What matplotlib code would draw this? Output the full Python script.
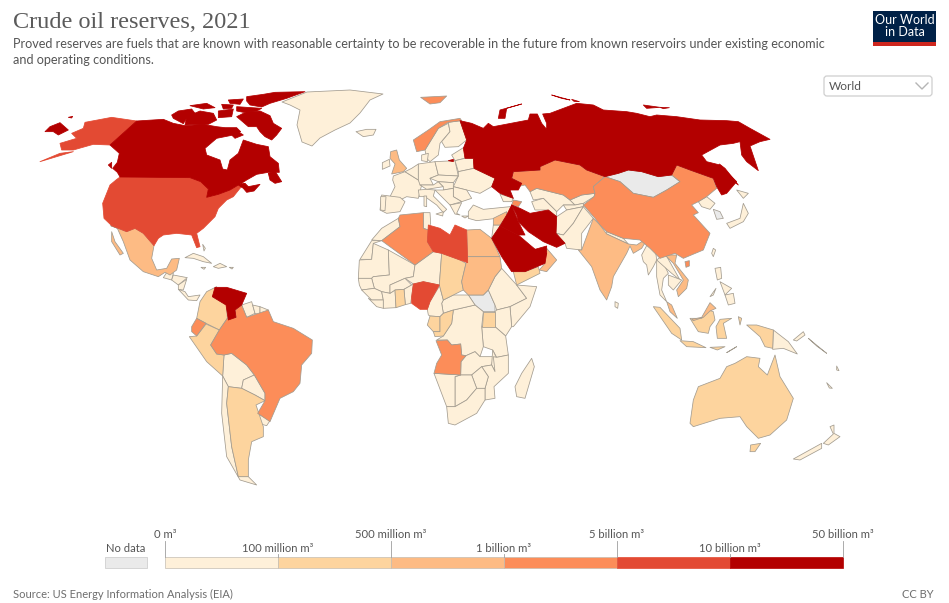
import matplotlib
matplotlib.use("Agg")
import matplotlib.pyplot as plt
from matplotlib.patches import Polygon, Rectangle, FancyBboxPatch

# ---- legend data ----
BIN_COLORS = ["#fef0d9", "#fdd49e", "#fdbb84", "#fc8d59", "#e34a33", "#b30000"]
NO_DATA_COLOR = "#eaeaea"
BIN_LABELS = ["0 m³", "100 million m³", "500 million m³", "1 billion m³",
              "5 billion m³", "10 billion m³", "50 billion m³"]

# ---- reserve bin per country (-1 = no data) ----
BIN_5 = ["Canada", "Russia", "Venezuela", "Iran", "Iraq", "Saudi Arabia", "UAE", "Kuwait"]
BIN_4 = ["United States", "Libya", "Nigeria"]
BIN_3 = ["Algeria", "Angola", "Kazakhstan", "China", "Norway", "Brazil", "Ecuador", "Azerbaijan"]
BIN_2 = ["Mexico", "United Kingdom", "Egypt", "Sudan", "Oman", "India", "Malaysia", "Vietnam", "Syria"]
BIN_1 = ["Colombia", "Peru", "Argentina", "Chad", "Yemen", "Indonesia", "Australia", "Ghana",
         "Uganda", "Gabon", "Congo"]
NO_DATA = ["Mongolia", "South Sudan", "South Korea"]

# ---- map outlines (traced on crops of the map, each crop has its own origin) ----
PAGE, NA, SA, EU, AF, AS, OC = (0, 0), (30, 85), (100, 230), (350, 90), (340, 210), (450, 90), (630, 230)

OUTLINES = {
 "Canada": [(NA, [(320,108),(400,103),(430,115),(465,122),(520,118),(560,125),(585,128),(620,128),(632,140),(615,148),(600,152),(560,160),(525,190),(530,210),(570,225),(578,252),(592,255),(600,225),(625,205),(640,165),(680,178),(715,185),(720,215),(745,235),(748,262),(715,262),(680,268),(650,285),(630,298),(645,295),(655,305),(690,298),(672,318),(650,322),(640,310),(625,300),(600,315),(565,328),(530,337),(535,312),(512,290),(480,278),(270,276),(262,262),(248,250),(262,232),(268,205),(240,180)]),
   (NA, [(620,95),(650,80),(690,78),(720,92),(730,115),(755,130),(740,150),(725,165),(705,155),(690,140),(680,125),(655,125),(640,112)]),
   (NA, [(470,95),(510,78),(550,85),(560,105),(535,118),(465,120)]),
   (NA, [(425,90),(445,78),(485,72),(495,85),(470,100),(460,116),(430,100)]),
   (NA, [(650,35),(700,28),(735,22),(825,20),(770,40),(720,55),(695,66),(660,60),(650,48)]),
   (NA, [(480,62),(530,55),(555,68),(520,72)]), (NA, [(595,45),(640,42),(630,58),(600,55)]),
   (NA, [(575,58),(610,60),(605,70),(580,72)]), (NA, [(565,78),(610,72),(605,95),(565,98)]),
   (NA, [(620,65),(695,70),(680,78),(640,82),(620,78)]), (NA, [(600,145),(625,140),(640,150),(615,160)]),
   (NA, [(715,265),(735,258),(755,290),(735,295),(720,285)]), (NA, [(235,240),(245,232),(245,250)])],
 "United States": [(NA, [(270,276),(480,278),(512,290),(535,312),(530,337),(565,328),(600,315),(625,300),(645,295),(630,310),(610,335),(590,345),(565,370),(555,395),(520,430),(500,445),(510,485),(500,488),(485,450),(440,445),(400,450),(385,460),(372,482),(340,445),(315,430),(290,440),(245,422),(222,400),(218,355),(240,300),(258,285)]),
   (NA, [(320,108),(245,97),(165,112),(160,130),(125,145),(140,160),(90,175),(95,195),(130,195),(190,178),(240,180)]),
   (NA, [(30,230),(90,212),(130,200),(90,205)])],
 "Mexico": [(NA, [(242,422),(290,440),(315,430),(340,445),(372,482),(365,520),(380,555),(410,550),(425,522),(448,520),(440,555),(420,570),(405,562),(385,575),(340,560),(300,525),(280,470),(262,430)]),
   (NA, [(245,440),(255,470),(280,505),(270,510),(245,470)])],
 "Greenland": [(PAGE, [(282,102),(307,92),(350,90),(383,94),(370,100),(360,113),(350,123),(335,130),(320,138),(312,146),(302,142),(297,125),(300,110),(290,105)])],
 "Cuba": [(NA, [(465,518),(490,505),(520,515),(545,535),(520,530),(490,520)])],
 "Hispaniola": [(NA, [(550,545),(570,535),(590,545),(565,550)])],
 "Jamaica": [(NA, [(513,547),(527,547),(522,553)])],
 "Puerto Rico": [(NA, [(598,547),(610,547),(606,552)])],
 "Bahamas": [(NA, [(518,478),(526,490),(522,498)])],
 "Guatemala": [(SA, [(190,143),(205,120),(220,130),(215,150)])],
 "Honduras": [(SA, [(220,135),(262,143),(235,165),(215,150)])],
 "Nicaragua": [(SA, [(235,165),(260,148),(250,180),(235,178)])],
 "Panama": [(SA, [(235,178),(255,185),(265,200),(300,195),(290,212),(265,210)])],
 "Colombia": [(SA, [(300,215),(320,185),(350,170),(337,200),(380,225),(382,265),(358,300),(318,280),(290,265)])],
 "Venezuela": [(SA, [(337,200),(345,172),(380,172),(440,190),(425,225),(405,240),(408,262),(385,270),(378,225)])],
 "Ecuador": [(SA, [(275,290),(290,265),(318,280),(290,318),(275,305)])],
 "Peru": [(SA, [(268,320),(290,318),(318,282),(358,300),(332,345),(350,372),(372,375),(368,438),(320,395)])],
 "Bolivia": [(SA, [(372,375),(395,370),(440,405),(463,435),(430,450),(425,475),(385,470),(368,438)])],
 "Chile": [(SA, [(368,438),(385,470),(380,520),(395,650),(415,740),(445,740),(470,765),(420,750),(380,680),(365,550)])],
 "Argentina": [(SA, [(385,470),(425,475),(465,495),(495,512),(468,525),(490,590),(490,620),(455,635),(445,690),(445,740),(415,740),(395,650),(380,520)])],
 "Paraguay": [(SA, [(430,450),(463,435),(495,490),(495,512),(465,495),(425,475)])],
 "Uruguay": [(SA, [(473,550),(510,572),(500,587),(475,580)])],
 "Brazil": [(SA, [(332,345),(358,300),(382,265),(408,262),(405,240),(425,225),(440,262),(505,240),(520,275),(580,295),(637,330),(635,370),(605,405),(600,460),(580,485),(540,505),(510,575),(473,550),(495,512),(495,490),(463,435),(440,405),(395,370),(372,375),(350,372)])],
 "Guyana": [(SA, [(425,225),(455,215),(465,250),(440,262)])],
 "Suriname": [(SA, [(458,225),(480,230),(480,255),(465,250)])],
 "French Guiana": [(SA, [(480,230),(505,240),(495,260),(480,255)])],
 "Iceland": [(EU, [(18,125),(50,118),(78,118),(70,135),(40,140)])],
 "Norway": [(EU, [(190,150),(235,120),(270,95),(330,85),(335,92),(295,97),(265,115),(225,180),(200,185)]),
   (EU, [(212,22),(290,18),(270,38),(240,42)])],
 "Sweden": [(EU, [(225,180),(265,115),(295,100),(300,125),(270,160),(265,195),(240,215),(230,205)])],
 "Finland": [(EU, [(295,97),(330,92),(350,150),(325,170),(285,172),(275,155),(300,125)])],
 "United Kingdom": [(EU, [(122,185),(140,180),(148,210),(170,235),(160,245),(125,252),(135,222),(120,205)])],
 "Ireland": [(EU, [(97,218),(118,208),(120,228),(97,238)])],
 "France": [(EU, [(130,258),(165,245),(205,270),(215,285),(205,325),(170,320),(150,330),(120,320),(135,290),(128,270)])],
 "Spain": [(EU, [(95,315),(150,322),(165,335),(150,365),(110,370),(90,360)])],
 "Portugal": [(EU, [(92,320),(108,320),(105,362),(92,360)])],
 "Denmark": [(EU, [(215,195),(235,190),(232,215),(215,212)])],
 "Benelux": [(EU, [(165,245),(185,235),(205,222),(205,270)])],
 "Germany": [(EU, [(205,222),(255,215),(265,255),(240,265),(250,285),(210,285),(205,270)])],
 "Poland": [(EU, [(255,215),(315,212),(325,258),(265,255)])],
 "Baltics": [(EU, [(305,195),(345,170),(345,205),(315,212)])],
 "Belarus": [(EU, [(315,212),(345,205),(370,205),(372,235),(325,245)])],
 "Ukraine": [(EU, [(325,245),(372,235),(435,265),(425,290),(390,310),(350,300),(310,290),(325,258)])],
 "Czechia": [(EU, [(240,265),(265,255),(325,258),(310,278),(265,275)])],
 "Austria": [(EU, [(210,285),(250,285),(265,275),(280,290),(230,298)])],
 "Hungary": [(EU, [(265,275),(310,278),(310,295),(280,300),(280,290)])],
 "Romania": [(EU, [(310,290),(350,300),(365,325),(335,335),(310,320)])],
 "Balkans": [(EU, [(255,300),(280,300),(310,295),(310,320),(335,335),(300,345),(280,325)])],
 "Greece": [(EU, [(300,345),(335,338),(320,370),(330,375),(315,372)])],
 "Italy": [(EU, [(205,300),(230,298),(255,300),(250,318),(290,358),(280,368),(260,345),(225,320),(208,320)]),
   (EU, [(258,372),(280,365),(278,378)]), (EU, [(222,318),(230,318),(230,350),(222,348)])],
 "Turkey": [(EU, [(355,365),(370,345),(400,358),(480,350),(495,375),(440,385),(380,392),(355,385)])],
 "Cyprus": [(EU, [(335,378),(355,378),(345,384)])],
 "Russia": [(AS, [(30,92),(65,100),(100,115),(115,100),(130,110),(235,90),(240,72),(262,72),(275,100),(290,118),(290,100),(278,72),(300,70),(380,40),(430,45),(460,60),(530,65),(560,70),(600,80),(620,75),(680,80),(750,90),(830,92),(865,95),(900,115),(960,148),(930,155),(900,168),(925,242),(890,215),(875,195),(870,155),(850,160),(810,165),(755,195),(770,215),(810,225),(860,275),(830,310),(815,315),(800,290),(790,265),(720,240),(680,225),(665,255),(625,260),(575,245),(535,240),(505,250),(465,260),(410,240),(390,225),(315,210),(270,230),(270,240),(190,245),(185,265),(215,280),(205,300),(180,300),(190,325),(150,310),(125,290),(135,265),(72,235),(70,205),(45,205),(40,175),(50,150)]),
   (AS, [(808,222),(825,235),(865,285),(845,270)]),
   (AS, [(145,85),(150,60),(215,42),(170,55),(165,85)]),
   (AS, [(305,15),(360,30),(335,25)]), (AS, [(365,28),(388,35),(372,34)]),
   (AS, [(580,45),(630,52),(590,55)]), (AS, [(630,52),(658,53),(640,56)]),
   (NA, [(45,140),(60,125),(90,113),(115,135),(85,150),(70,140)]),
   (NA, [(115,97),(128,94),(125,99)]), (EU, [(295,212),(310,208),(310,215)])],
 "Kazakhstan": [(AS, [(190,245),(270,240),(270,230),(315,210),(390,225),(410,240),(465,260),(430,290),(435,310),(395,315),(360,330),(340,315),(260,295),(240,305),(225,285),(200,290),(215,280),(185,265)])],
 "China": [(AS, [(465,260),(510,275),(550,310),(610,322),(650,300),(690,275),(665,255),(680,225),(720,240),(790,265),(800,295),(770,320),(745,335),(725,345),(745,368),(730,375),(780,430),(760,480),(700,505),(675,490),(630,505),(600,475),(570,450),(520,445),(470,425),(450,405),(435,385),(400,345),(432,320),(435,310),(430,290)]),
   (AS, [(705,515),(718,512),(718,528),(708,532)])],
 "Mongolia": [(AS, [(465,260),(505,250),(535,240),(575,245),(625,260),(665,255),(690,275),(650,300),(610,322),(550,310),(510,275)])],
 "Taiwan": [(AS, [(790,475),(797,480),(790,500),(785,490)])],
 "North Korea": [(AS, [(745,335),(770,320),(795,340),(780,358),(755,350)])],
 "South Korea": [(AS, [(790,358),(810,365),(820,385),(800,388)])],
 "Japan": [(AS, [(880,340),(895,370),(880,395),(840,415),(830,400),(870,385)]), (AS, [(860,300),(895,310),(880,325)])],
 "Uzbekistan": [(AS, [(240,305),(260,295),(340,315),(360,330),(375,345),(340,345),(320,365),(280,325),(250,330)])],
 "Turkmenistan": [(AS, [(245,335),(280,325),(320,365),(320,380),(295,360),(255,360)])],
 "Kyrgyzstan": [(AS, [(360,330),(395,315),(435,310),(432,320),(400,340),(375,345)])],
 "Tajikistan": [(AS, [(375,345),(400,340),(400,350),(350,360),(340,345)])],
 "Afghanistan": [(AS, [(320,380),(350,360),(400,350),(370,400),(340,435),(318,430)])],
 "Pakistan": [(AS, [(318,430),(340,435),(370,400),(400,350),(430,385),(395,430),(395,480),(350,475),(345,460)])],
 "Iran": [(AS, [(185,345),(210,355),(240,370),(295,360),(320,380),(318,430),(345,460),(320,472),(280,455),(235,425),(205,395),(200,375)])],
 "Iraq": [(AS, [(170,375),(185,345),(205,395),(225,435),(205,435),(150,408)])],
 "Saudi Arabia": [(AS, [(125,445),(150,408),(205,435),(240,465),(270,490),(290,490),(285,520),(225,545),(185,545),(155,500)])],
 "UAE": [(AS, [(255,478),(290,468),(290,492),(270,492)])],
 "Yemen": [(AS, [(190,545),(225,545),(265,530),(270,550),(200,585)])],
 "Oman": [(AS, [(290,475),(320,510),(290,545),(268,540),(285,520)])],
 "Syria": [(AS, [(130,385),(170,365),(170,378),(150,405),(130,405)])],
 "Jordan": [(AS, [(130,405),(150,405),(150,408),(125,445)])],
 "Georgia": [(AS, [(150,312),(190,325),(185,335),(160,335)])],
 "Azerbaijan": [(AS, [(190,330),(215,335),(205,350),(185,345)])],
 "India": [(AS, [(395,480),(430,385),(450,405),(470,432),(535,462),(560,465),(595,442),(575,475),(550,490),(540,468),(530,490),(490,560),(485,590),(470,630),(450,600),(425,530),(385,480)])],
 "Nepal": [(AS, [(470,425),(520,445),(535,462),(470,432)])],
 "Sri Lanka": [(AS, [(495,635),(505,640),(503,655),(495,650)])],
 "Myanmar": [(OC, [(35,75),(60,28),(75,50),(80,90),(70,110),(55,135),(50,105),(40,95)])],
 "Thailand": [(OC, [(80,90),(100,100),(115,130),(100,145),(95,180),(110,215),(90,195),(80,140)])],
 "Laos": [(OC, [(80,90),(105,70),(150,150),(125,130)])],
 "Vietnam": [(OC, [(105,75),(140,75),(135,100),(175,150),(170,175),(145,200),(140,180),(160,150),(130,100)])],
 "Cambodia": [(OC, [(115,135),(155,150),(130,180),(115,165)])],
 "Malaysia": [(OC, [(110,215),(125,225),(142,265),(120,245)]), (OC, [(185,268),(215,262),(240,218),(258,235),(240,243),(220,262),(190,272)])],
 "Indonesia": [(OC, [(70,230),(90,232),(150,295),(155,330),(125,310)]), (OC, [(150,332),(190,335),(228,353),(170,350)]),
   (OC, [(180,265),(215,265),(235,240),(250,245),(255,270),(240,290),(235,310),(205,305)]),
   (OC, [(258,290),(270,268),(305,265),(280,280),(290,325),(262,325)]),
   (OC, [(350,285),(380,285),(430,300),(428,355),(405,350),(390,320)]),
   (OC, [(240,352),(285,350),(262,360)]), (OC, [(290,368),(320,350),(300,362)]), (OC, [(325,260),(335,265),(330,285)])],
 "Philippines": [(OC, [(255,115),(272,112),(275,145),(262,150)]), (OC, [(285,195),(310,190),(315,220),(295,225)]),
   (OC, [(270,155),(305,175),(285,195)]), (OC, [(240,200),(258,175),(250,195)])],
 "Papua New Guinea": [(OC, [(430,300),(475,335),(502,372),(460,355),(428,358)]), (OC, [(490,330),(520,305),(525,315),(500,333)])],
 "Solomon Islands": [(OC, [(535,325),(590,370),(560,348)])],
 "New Caledonia": [(OC, [(590,458),(607,475),(598,474)])],
 "Vanuatu": [(OC, [(620,408),(627,422),(620,420)])],
 "Australia": [(OC, [(180,580),(190,510),(205,470),(270,445),(290,410),(315,400),(350,380),(390,385),(385,410),(412,435),(435,375),(450,440),(490,505),(470,570),(420,615),(385,625),(350,590),(330,560),(270,565),(190,590)]),
   (OC, [(362,645),(392,640),(375,665),(360,665)])],
 "New Zealand": [(OC, [(600,590),(612,585),(612,610),(630,620),(595,645),(580,640),(610,612)]), (OC, [(490,687),(575,640),(575,655),(510,690)])],
 "Morocco": [(AF, [(95,90),(125,55),(175,25),(180,50),(125,92)])],
 "Western Sahara": [(AF, [(60,148),(95,92),(125,92),(100,100),(95,148)])],
 "Algeria": [(AF, [(125,92),(180,50),(175,25),(180,15),(250,8),(250,55),(265,60),(262,95),(280,125),(225,165)])],
 "Tunisia": [(AF, [(250,8),(270,8),(272,40),(265,60),(250,55)])],
 "Libya": [(AF, [(265,45),(300,55),(330,75),(345,45),(380,60),(383,158),(360,150),(305,130),(280,125),(262,95)])],
 "Egypt": [(AF, [(380,60),(420,58),(455,85),(480,140),(383,140)])],
 "Sudan": [(AF, [(383,140),(480,140),(485,175),(465,200),(445,240),(430,255),(385,255),(370,240),(365,215),(378,160)])],
 "Mauritania": [(AF, [(58,150),(95,148),(100,100),(145,120),(148,195),(100,200),(95,205),(55,205)])],
 "Mali": [(AF, [(145,120),(225,165),(220,200),(195,205),(150,225),(150,250),(125,245),(103,235),(95,205),(100,200),(148,195)])],
 "Niger": [(AF, [(225,165),(280,125),(305,130),(298,225),(250,215),(220,222),(195,205),(220,200)])],
 "Chad": [(AF, [(305,130),(360,150),(378,160),(365,215),(370,240),(340,255),(310,270),(298,225)])],
 "South Sudan": [(AF, [(385,255),(430,255),(445,240),(465,285),(465,305),(430,305),(405,285)])],
 "Ethiopia": [(AF, [(465,200),(485,175),(530,225),(560,265),(510,290),(470,300),(465,285),(445,240)])],
 "Somalia": [(AF, [(530,225),(590,230),(570,290),(520,350),(515,350),(510,290),(560,265)])],
 "Kenya": [(AF, [(465,305),(470,300),(510,290),(515,350),(497,378),(465,350)])],
 "Uganda": [(AF, [(430,305),(465,305),(465,350),(425,350)])],
 "Tanzania": [(AF, [(425,350),(465,350),(497,378),(505,435),(470,442),(458,420),(430,410)])],
 "DR Congo": [(AF, [(340,300),(405,285),(430,305),(425,350),(430,410),(420,440),(405,425),(378,437),(365,435),(362,402),(335,405),(322,390),(290,390),(310,378),(335,340)])],
 "CAR": [(AF, [(305,280),(310,270),(340,255),(385,255),(405,285),(340,300),(310,310)])],
 "Gabon": [(AF, [(262,345),(270,318),(300,320),(300,365),(280,365)])],
 "Congo": [(AF, [(300,320),(310,310),(340,300),(335,340),(310,378),(285,380),(280,365),(300,365)])],
 "Cameroon": [(AF, [(265,315),(262,298),(270,275),(302,222),(298,225),(310,270),(305,280),(310,310),(300,320),(270,318)])],
 "Nigeria": [(AF, [(215,260),(220,222),(250,215),(298,225),(270,275),(262,298),(240,298),(215,280)])],
 "Angola": [(AF, [(288,392),(322,390),(335,405),(362,402),(365,435),(378,437),(363,455),(362,495),(282,490),(290,460),(305,435)])],
 "Zambia": [(AF, [(363,455),(378,437),(405,425),(420,440),(460,440),(455,465),(425,470),(395,495),(362,495)])],
 "Malawi": [(AF, [(458,420),(470,445),(465,485),(455,465)])],
 "Mozambique": [(AF, [(460,440),(470,442),(505,435),(505,490),(462,530),(465,565),(435,570),(435,535),(445,500),(425,470),(455,465),(465,485)])],
 "Zimbabwe": [(AF, [(395,495),(425,470),(445,500),(435,535),(410,535)])],
 "Botswana": [(AF, [(345,500),(362,495),(395,495),(410,535),(380,570),(345,590)])],
 "Namibia": [(AF, [(282,490),(362,495),(345,500),(345,590),(320,590)])],
 "South Africa": [(AF, [(320,590),(345,590),(380,570),(410,535),(435,535),(435,570),(410,610),(345,645),(325,640)])],
 "Madagascar": [(AF, [(575,445),(583,470),(555,565),(530,560),(525,530),(545,490)])],
 "Senegal": [(AF, [(55,205),(95,205),(103,235),(65,240),(58,225)])],
 "Guinea": [(AF, [(65,240),(103,235),(125,245),(130,270),(95,270)])],
 "Liberia": [(AF, [(85,265),(95,270),(130,270),(130,295),(110,290)])],
 "Ivory Coast": [(AF, [(125,245),(150,250),(165,240),(168,293),(130,295),(130,270)])],
 "Ghana": [(AF, [(165,240),(192,238),(196,284),(168,293)])],
 "Burkina Faso": [(AF, [(150,225),(195,205),(215,225),(192,238),(165,240),(150,250)])],
 "Benin": [(AF, [(192,238),(215,225),(220,222),(215,260),(212,280),(196,284)])],
}


def bin_of(name):
    for idx, group in enumerate([BIN_1, BIN_2, BIN_3, BIN_4, BIN_5], start=1):
        if name in group:
            return idx
    return -1 if name in NO_DATA else 0


def to_page(origin, pts):
    if origin == PAGE:
        return list(pts)
    return [(origin[0] + x / 3, origin[1] + y / 3) for x, y in pts]


plt.rcParams["font.family"] = ["Lato", "DejaVu Sans"]
fig = plt.figure(figsize=(9.49, 6.03), dpi=100, facecolor="white")
ax = fig.add_axes([0, 0, 1, 1])
ax.set_xlim(0, 949)
ax.set_ylim(603, 0)
ax.axis("off")

for name in sorted(OUTLINES, key=bin_of):
    b = bin_of(name)
    face = NO_DATA_COLOR if b < 0 else BIN_COLORS[b]
    edge = face if b >= 4 else "#a39c90"
    for origin, pts in OUTLINES[name]:
        ax.add_patch(Polygon(to_page(origin, pts), closed=True, facecolor=face,
                             edgecolor=edge, linewidth=0.55, joinstyle="round", zorder=2 + max(b, 0) * 0.01))

# header
ax.text(13, 23, "Crude oil reserves, 2021", family="Liberation Serif", fontsize=17.5,
        color="#5b5b5b", va="center", ha="left")
ax.text(13, 44, "Proved reserves are fuels that are known with reasonable certainty to be recoverable in the future from known reservoirs under existing economic",
        fontsize=9.05, color="#555555", va="center", ha="left")
ax.text(13, 60, "and operating conditions.", fontsize=9.05, color="#555555", va="center", ha="left")

# logo
ax.add_patch(Rectangle((873, 11), 63, 35, facecolor="#002147", edgecolor="none", zorder=5))
ax.add_patch(Rectangle((873, 42), 63, 4, facecolor="#ce261e", edgecolor="none", zorder=6))
ax.text(904.5, 26.5, "Our World\nin Data", color="white", fontsize=9, ha="center", va="center",
        linespacing=1.0, zorder=7)

# selector
ax.add_patch(FancyBboxPatch((824, 76), 108, 20, boxstyle="round,pad=0,rounding_size=3",
                            facecolor="white", edgecolor="#cfcfcf", linewidth=0.9, zorder=5))
ax.text(829, 86, "World", fontsize=8.6, color="#555555", va="center", ha="left", zorder=6)
ax.plot([916, 922, 928], [83, 89, 83], color="#b5b5b5", lw=1.0, zorder=6)

# legend
LEFT, STEP, TOP, BAR_H = 165, 113, 557, 11
for i, col in enumerate(BIN_COLORS):
    ax.add_patch(Rectangle((LEFT + i * STEP, TOP), STEP, BAR_H, facecolor=col,
                           edgecolor="#c4bdb2" if i < 4 else col, linewidth=0.5, zorder=3))
for i, lab in enumerate(BIN_LABELS):
    x = LEFT + i * STEP
    upper = i % 2 == 0
    ax.plot([x, x], [TOP, 541 if upper else 554], color="#9e9e9e", lw=0.6, zorder=4)
    ax.text(x, 534 if upper else 548, lab, fontsize=8.1, color="#555555", ha="center", va="center")
ax.add_patch(Rectangle((105, TOP), 42, BAR_H, facecolor=NO_DATA_COLOR, edgecolor="#c8c8c8", linewidth=0.5))
ax.text(126, 548, "No data", fontsize=8.1, color="#555555", ha="center", va="center")

# footer
ax.text(13, 594, "Source: US Energy Information Analysis (EIA)", fontsize=8.0, color="#6e6e6e", va="center", ha="left")
ax.text(934, 594, "CC BY", fontsize=8.0, color="#6e6e6e", va="center", ha="right")

fig.savefig("out.png", dpi=100, facecolor="white")
